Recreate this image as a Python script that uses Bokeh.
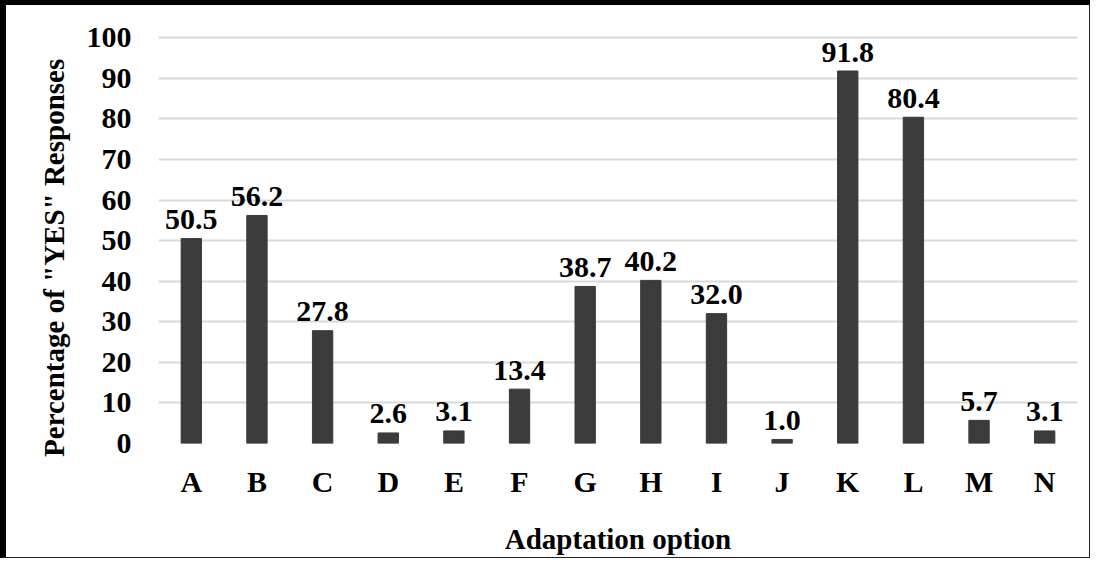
from bokeh.plotting import figure
from bokeh.models import ColumnDataSource, FactorRange, Range1d, FixedTicker
from bokeh.core.properties import value
from bokeh.embed import file_html
from bokeh.resources import INLINE

categories = ["A", "B", "C", "D", "E", "F", "G", "H", "I", "J", "K", "L", "M", "N"]
yes_pct = [50.5, 56.2, 27.8, 2.6, 3.1, 13.4, 38.7, 40.2, 32.0, 1.0, 91.8, 80.4, 5.7, 3.1]
y_ticks = [0, 10, 20, 30, 40, 50, 60, 70, 80, 90, 100]

FONT = "Liberation Serif"

src = ColumnDataSource(dict(
    cat=categories,
    val=yes_pct,
    lab=["{:.1f}".format(v) for v in yes_pct],
))

p = figure(
    x_range=FactorRange(*categories, range_padding=0),
    y_range=Range1d(0, 104),
    width=1090, height=558,
    output_backend="svg", toolbar_location=None,
    min_border_left=152, min_border_right=19,
    min_border_top=16, min_border_bottom=120,
)
p.styles = {
    "border-top": "5px solid black",
    "border-left": "6px solid black",
    "border-right": "1px solid #222",
    "border-bottom": "1px solid #222",
}

p.vbar(x="cat", top="val", width=0.31, source=src, color="#3b3b3b")

p.text(x="cat", y="val", text="lab", source=src,
       text_align="center", text_baseline="alphabetic", y_offset=-19,
       text_font=value(FONT), text_font_style="bold",
       text_font_size="30px", text_color="black")

p.outline_line_color = None
p.xgrid.grid_line_color = None
p.ygrid.grid_line_color = "#d9d9d9"
p.ygrid.grid_line_width = 2
p.yaxis.ticker = FixedTicker(ticks=y_ticks)

for ax in (p.xaxis[0], p.yaxis[0]):
    ax.axis_line_color = None
    ax.major_tick_line_color = None
    ax.minor_tick_line_color = None
    ax.major_tick_out = 0
    ax.major_tick_in = 0
    ax.major_label_text_font = FONT
    ax.major_label_text_font_style = "bold"
    ax.major_label_text_font_size = "30px"
    ax.major_label_text_color = "black"
    ax.axis_label_text_font = FONT
    ax.axis_label_text_font_style = "bold"
    ax.axis_label_text_font_size = "29px"
    ax.axis_label_text_color = "black"

p.xaxis.axis_label = "Adaptation option"
p.yaxis.axis_label = 'Percentage of "YES" Responses' + "\u00a0" * 7
p.xaxis.major_label_standoff = 21
p.xaxis.axis_label_standoff = 22
p.yaxis.major_label_standoff = 27
p.yaxis.axis_label_standoff = 14

open("out.html", "w").write(file_html(p, INLINE))
